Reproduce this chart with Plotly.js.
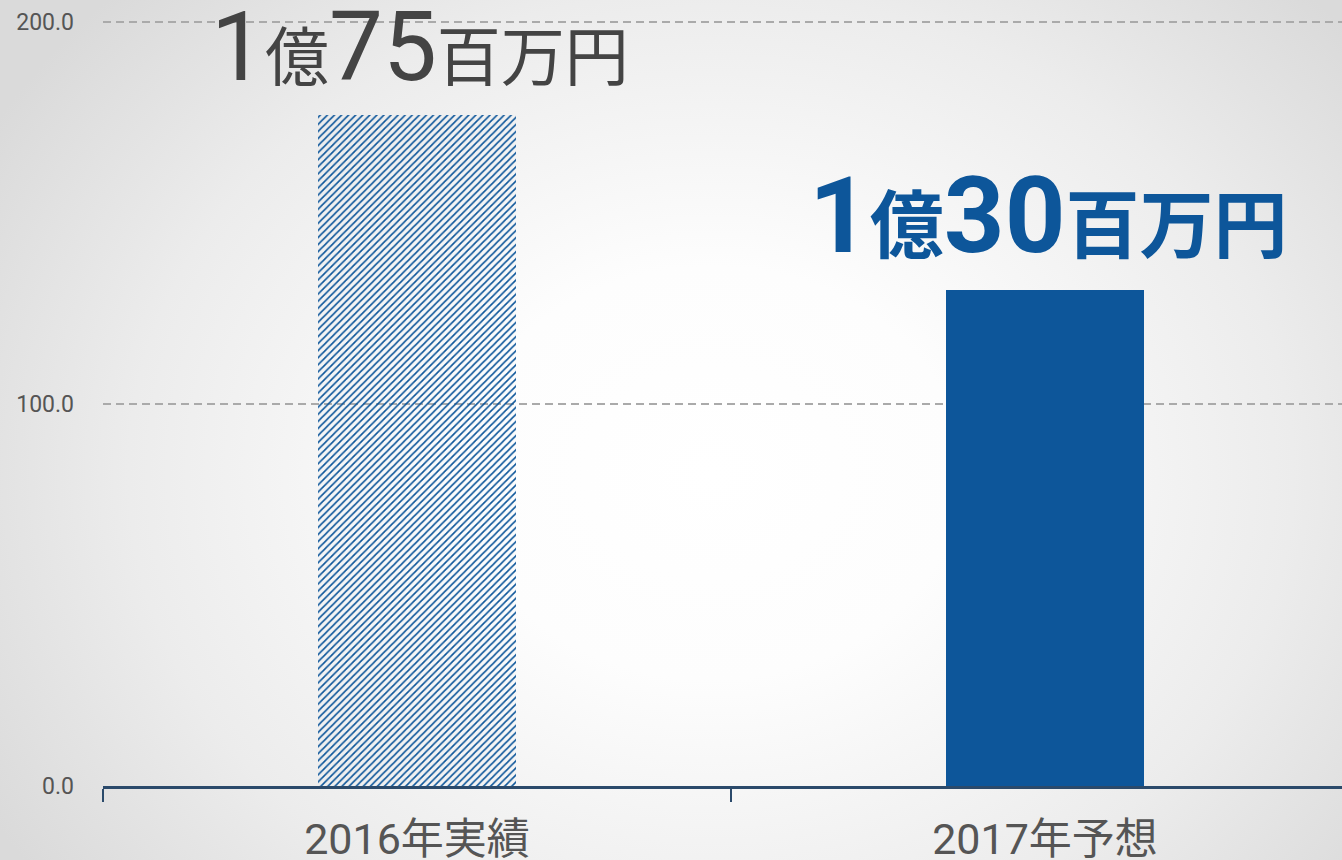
<!DOCTYPE html>
<html>
<head>
<meta charset="utf-8">
<script src="https://cdn.plot.ly/plotly-3.0.1.min.js"></script>
<style>
html,body{margin:0;padding:0;}
body{width:1342px;height:860px;overflow:hidden;
background: radial-gradient(ellipse 62% 80% at 53% 55%, #ffffff 0%, #fdfdfd 30%, #ececec 70%, #dadada 100%);}
#chart{width:1342px;height:860px;}
</style>
</head>
<body>
<div id="chart"></div>
<script>
const categories = ['2016年実績', '2017年予想'];
const values = [175.6, 129.9];
const okuParts = ['1', '1'];
const manParts = ['75', '30'];
const yTicks = [0, 100, 200];

const BAR_BLUE = '#0d569a';
const LIGHT_BLUE = '#bcdcfa';
const FONT = 'Roboto, "Noto Sans CJK JP", sans-serif';

const trace = {
  type: 'bar',
  x: categories,
  y: values,
  width: 0.315,
  marker: {
    color: [BAR_BLUE, BAR_BLUE],
    pattern: {
      shape: ['/', ''],
      size: 5,
      solidity: 0.33,
      fgcolor: BAR_BLUE,
      bgcolor: LIGHT_BLUE,
      fgopacity: 1,
      fillmode: 'replace'
    },
    line: {width: 0}
  },
  hoverinfo: 'skip'
};

function label(i, bold, dig, kan) {
  const w = bold ? 'font-weight:bold;' : '';
  return '<span style="font-size:' + dig + 'px;' + w + '">' + okuParts[i] + '</span>' +
         '<span style="font-size:' + kan + 'px;' + w + '">億</span>' +
         '<span style="font-size:' + dig + 'px;' + w + '">' + manParts[i] + '</span>' +
         '<span style="font-size:' + kan + 'px;' + w + '">百万円</span>';
}

const annotations = [
  {x: categories[0], y: values[0], text: label(0, false, 96, 64), showarrow: false,
   xanchor: 'center', yanchor: 'bottom', yshift: 10, xshift: 3,
   font: {family: FONT, color: '#444444', size: 64}},
  {x: categories[1], y: values[1], text: label(1, true, 106, 74), showarrow: false,
   xanchor: 'center', yanchor: 'bottom', yshift: 10, xshift: 3,
   font: {family: FONT, color: BAR_BLUE, size: 74}}
];

const layout = {
  width: 1342, height: 860,
  margin: {l: 103, r: 0, t: 0, b: 74, pad: 0},
  paper_bgcolor: 'rgba(0,0,0,0)',
  plot_bgcolor: 'rgba(0,0,0,0)',
  showlegend: false,
  font: {family: FONT},
  xaxis: {
    type: 'category',
    range: [-0.5, 1.473],
    tickson: 'boundaries',
    ticks: 'outside', ticklen: 13, tickwidth: 2, tickcolor: '#2b4a6b',
    showline: true, linecolor: '#2b4a6b', linewidth: 2.5,
    showgrid: false, zeroline: false,
    tickfont: {family: FONT, size: 43, color: '#555555'},
    ticklabelstandoff: 14,
    fixedrange: true
  },
  yaxis: {
    range: [0, 205.76],
    tickvals: yTicks,
    tickformat: '.1f',
    ticks: '',
    showline: false,
    zeroline: false,
    showgrid: true,
    gridcolor: '#aaaaaa', gridwidth: 1.5, griddash: '8px,5px',
    tickfont: {family: FONT, size: 23, color: '#555555'},
    ticklabelstandoff: 28,
    fixedrange: true
  },
  annotations: annotations,
  bargap: 0
};

Plotly.newPlot('chart', [trace], layout, {displayModeBar: false, staticPlot: true});
</script>
</body>
</html>
